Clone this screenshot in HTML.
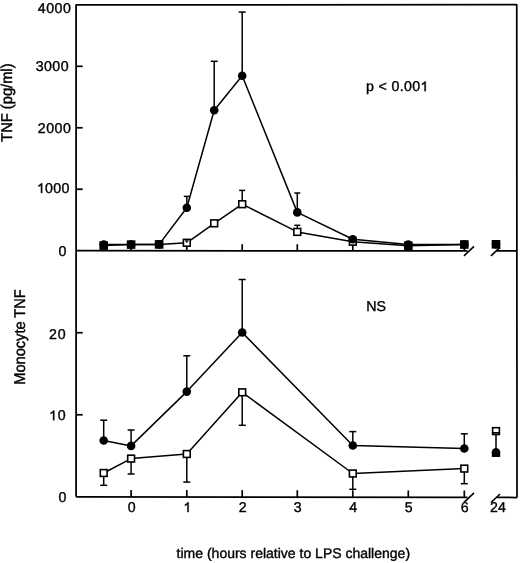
<!DOCTYPE html>
<html><head><meta charset="utf-8"><style>
html,body{margin:0;padding:0;background:#fff;}
body{width:520px;height:563px;overflow:hidden;}
svg{display:block;filter:grayscale(1);font-family:"Liberation Sans",sans-serif;-webkit-font-smoothing:antialiased;}
text{text-rendering:geometricPrecision;}
</style></head><body>
<svg width="520" height="563" viewBox="0 0 520 563" stroke="#000" fill="#000">
<polyline points="76.10,496.80 76.10,4.85 516.75,4.70 517.00,497.50" fill="none" stroke-width="1.75" stroke-linejoin="round"/>
<polyline points="76.10,250.70 467.50,250.88" fill="none" stroke-width="1.75" stroke-linejoin="round"/>
<polyline points="496.50,250.89 516.90,250.90" fill="none" stroke-width="1.75" stroke-linejoin="round"/>
<line x1="464.00" y1="255.88" x2="474.00" y2="246.38" stroke-width="1.6" stroke-linecap="butt"/>
<line x1="491.00" y1="255.89" x2="500.00" y2="247.39" stroke-width="1.6" stroke-linecap="butt"/>
<polyline points="76.10,496.80 467.50,497.42" fill="none" stroke-width="1.75" stroke-linejoin="round"/>
<polyline points="496.50,497.47 517.00,497.50" fill="none" stroke-width="1.75" stroke-linejoin="round"/>
<line x1="464.00" y1="502.42" x2="474.00" y2="492.92" stroke-width="1.6" stroke-linecap="butt"/>
<line x1="491.00" y1="502.47" x2="500.00" y2="493.97" stroke-width="1.6" stroke-linecap="butt"/>
<line x1="76.10" y1="189.24" x2="82.70" y2="189.24" stroke-width="1.75" stroke-linecap="butt"/>
<line x1="76.10" y1="127.77" x2="82.70" y2="127.77" stroke-width="1.75" stroke-linecap="butt"/>
<line x1="76.10" y1="66.31" x2="82.70" y2="66.31" stroke-width="1.75" stroke-linecap="butt"/>
<line x1="76.10" y1="414.77" x2="82.70" y2="414.77" stroke-width="1.75" stroke-linecap="butt"/>
<line x1="76.10" y1="332.73" x2="82.70" y2="332.73" stroke-width="1.75" stroke-linecap="butt"/>
<line x1="131.10" y1="250.72" x2="131.10" y2="244.12" stroke-width="1.7" stroke-linecap="butt"/>
<line x1="131.10" y1="496.89" x2="131.10" y2="489.99" stroke-width="1.7" stroke-linecap="butt"/>
<line x1="186.80" y1="250.75" x2="186.80" y2="244.15" stroke-width="1.7" stroke-linecap="butt"/>
<line x1="186.80" y1="496.98" x2="186.80" y2="490.08" stroke-width="1.7" stroke-linecap="butt"/>
<line x1="242.20" y1="250.78" x2="242.20" y2="244.18" stroke-width="1.7" stroke-linecap="butt"/>
<line x1="242.20" y1="497.06" x2="242.20" y2="490.16" stroke-width="1.7" stroke-linecap="butt"/>
<line x1="297.30" y1="250.80" x2="297.30" y2="244.20" stroke-width="1.7" stroke-linecap="butt"/>
<line x1="297.30" y1="497.15" x2="297.30" y2="490.25" stroke-width="1.7" stroke-linecap="butt"/>
<line x1="352.80" y1="250.83" x2="352.80" y2="244.23" stroke-width="1.7" stroke-linecap="butt"/>
<line x1="352.80" y1="497.24" x2="352.80" y2="490.34" stroke-width="1.7" stroke-linecap="butt"/>
<line x1="408.30" y1="250.85" x2="408.30" y2="244.25" stroke-width="1.7" stroke-linecap="butt"/>
<line x1="408.30" y1="497.33" x2="408.30" y2="490.43" stroke-width="1.7" stroke-linecap="butt"/>
<line x1="464.30" y1="250.88" x2="464.30" y2="244.28" stroke-width="1.7" stroke-linecap="butt"/>
<line x1="464.30" y1="497.42" x2="464.30" y2="490.52" stroke-width="1.7" stroke-linecap="butt"/>
<text stroke="#000" stroke-width="0.38" x="37.86" y="12.60" text-anchor="start" font-size="14.2" letter-spacing="0.45" xml:space="preserve" >4000</text>
<text stroke="#000" stroke-width="0.38" x="35.66" y="71.40" text-anchor="start" font-size="14.2" letter-spacing="0.45" xml:space="preserve" >3000</text>
<text stroke="#000" stroke-width="0.38" x="37.86" y="133.00" text-anchor="start" font-size="14.2" letter-spacing="0.45" xml:space="preserve" >2000</text>
<path d="M763 0L583 0L583 1128Q518 1066 412 1004Q306 942 222 911L222 1085Q367 1153 476 1250Q585 1347 630 1409L763 1409Z" transform="translate(36.91,193.00) scale(0.00693,-0.00693)" fill="#000" stroke="#000" stroke-width="54.8"/>
<text stroke="#000" stroke-width="0.38" x="45.11" y="193.00" text-anchor="start" font-size="14.2" letter-spacing="0.3" xml:space="preserve" >000</text>
<text stroke="#000" stroke-width="0.38" x="66.40" y="256.00" text-anchor="end" font-size="14.2" >0</text>
<text stroke="#000" stroke-width="0.38" x="49.01" y="338.50" text-anchor="start" font-size="14.2" letter-spacing="0.8" xml:space="preserve" >20</text>
<path d="M763 0L583 0L583 1128Q518 1066 412 1004Q306 942 222 911L222 1085Q367 1153 476 1250Q585 1347 630 1409L763 1409Z" transform="translate(49.01,420.30) scale(0.00693,-0.00693)" fill="#000" stroke="#000" stroke-width="54.8"/>
<text stroke="#000" stroke-width="0.38" x="57.70" y="420.30" text-anchor="start" font-size="14.2" letter-spacing="0.8" xml:space="preserve" >0</text>
<text stroke="#000" stroke-width="0.38" x="66.40" y="502.30" text-anchor="end" font-size="14.2" >0</text>
<text stroke="#000" stroke-width="0.38" x="131.60" y="512.10" text-anchor="middle" font-size="14.2" >0</text>
<path d="M763 0L583 0L583 1128Q518 1066 412 1004Q306 942 222 911L222 1085Q367 1153 476 1250Q585 1347 630 1409L763 1409Z" transform="translate(183.35,512.10) scale(0.00693,-0.00693)" fill="#000" stroke="#000" stroke-width="54.8"/>
<text stroke="#000" stroke-width="0.38" x="242.70" y="512.10" text-anchor="middle" font-size="14.2" >2</text>
<text stroke="#000" stroke-width="0.38" x="297.80" y="512.10" text-anchor="middle" font-size="14.2" >3</text>
<text stroke="#000" stroke-width="0.38" x="353.30" y="512.10" text-anchor="middle" font-size="14.2" >4</text>
<text stroke="#000" stroke-width="0.38" x="408.80" y="512.10" text-anchor="middle" font-size="14.2" >5</text>
<text stroke="#000" stroke-width="0.38" x="464.80" y="512.10" text-anchor="middle" font-size="14.2" >6</text>
<text stroke="#000" stroke-width="0.38" x="498.00" y="512.10" text-anchor="middle" font-size="14.2" >24</text>
<text stroke="#000" stroke-width="0.38" x="366.00" y="91.20" text-anchor="start" font-size="14.2" letter-spacing="0.34" xml:space="preserve" >p &lt; 0.00</text>
<path d="M763 0L583 0L583 1128Q518 1066 412 1004Q306 942 222 911L222 1085Q367 1153 476 1250Q585 1347 630 1409L763 1409Z" transform="translate(420.44,91.20) scale(0.00693,-0.00693)" fill="#000" stroke="#000" stroke-width="54.8"/>
<text stroke="#000" stroke-width="0.38" x="366.20" y="311.40" text-anchor="start" font-size="14.2" >NS</text>
<text stroke="#000" stroke-width="0.38" x="176.60" y="557.60" text-anchor="start" font-size="14.0" >time (hours relative to LPS challenge)</text>
<text stroke="#000" stroke-width="0.38" transform="translate(12.4,141.8) rotate(-90) scale(1,1.06)" font-size="14.7" style="stroke-width:0.42px">TNF (pg/ml)</text>
<text stroke="#000" stroke-width="0.38" transform="translate(24.8,384.7) rotate(-90) scale(1,1.06)" font-size="14.6" style="stroke-width:0.42px">Monocyte TNF</text>
<polyline points="103.70,244.50 131.10,244.50 159.10,244.40 186.80,207.70 214.20,110.20 242.20,75.80 297.30,212.40 352.80,239.20 408.30,244.60 464.30,244.50" fill="none" stroke-width="1.5" stroke-linejoin="round"/>
<polyline points="103.70,245.60 131.10,244.60 159.10,244.40 186.80,242.80 214.20,223.30 242.20,204.20 297.30,231.90 352.80,241.70 408.30,245.80 464.30,244.50" fill="none" stroke-width="1.5" stroke-linejoin="round"/>
<line x1="186.80" y1="207.70" x2="186.80" y2="196.40" stroke-width="1.5" stroke-linecap="butt"/>
<line x1="183.80" y1="196.40" x2="189.80" y2="196.40" stroke-width="1.5" stroke-linecap="butt"/>
<line x1="214.20" y1="110.20" x2="214.20" y2="61.30" stroke-width="1.5" stroke-linecap="butt"/>
<line x1="210.70" y1="61.30" x2="217.70" y2="61.30" stroke-width="1.5" stroke-linecap="butt"/>
<line x1="242.20" y1="75.80" x2="242.20" y2="12.10" stroke-width="1.5" stroke-linecap="butt"/>
<line x1="238.70" y1="12.10" x2="245.70" y2="12.10" stroke-width="1.5" stroke-linecap="butt"/>
<line x1="242.20" y1="204.20" x2="242.20" y2="190.40" stroke-width="1.5" stroke-linecap="butt"/>
<line x1="239.20" y1="190.40" x2="245.20" y2="190.40" stroke-width="1.5" stroke-linecap="butt"/>
<line x1="297.30" y1="212.40" x2="297.30" y2="193.00" stroke-width="1.5" stroke-linecap="butt"/>
<line x1="294.30" y1="193.00" x2="300.30" y2="193.00" stroke-width="1.5" stroke-linecap="butt"/>
<line x1="297.30" y1="231.90" x2="297.30" y2="225.30" stroke-width="1.5" stroke-linecap="butt"/>
<line x1="294.30" y1="225.30" x2="300.30" y2="225.30" stroke-width="1.5" stroke-linecap="butt"/>
<line x1="186.80" y1="242.80" x2="186.80" y2="240.60" stroke-width="1.2" stroke-linecap="butt"/>
<line x1="185.05" y1="240.60" x2="188.55" y2="240.60" stroke-width="1.2" stroke-linecap="butt"/>
<rect x="99.40" y="241.30" width="8.60" height="8.60" fill="#000" stroke="none"/>
<circle cx="103.70" cy="244.50" r="4.3" fill="#000" stroke="none"/>
<rect x="126.80" y="240.30" width="8.60" height="8.60" fill="#000" stroke="none"/>
<circle cx="131.10" cy="244.50" r="4.3" fill="#000" stroke="none"/>
<rect x="154.80" y="240.10" width="8.60" height="8.60" fill="#000" stroke="none"/>
<circle cx="159.10" cy="244.40" r="4.3" fill="#000" stroke="none"/>
<rect x="404.00" y="241.50" width="8.60" height="8.60" fill="#000" stroke="none"/>
<circle cx="408.30" cy="244.60" r="4.3" fill="#000" stroke="none"/>
<rect x="460.00" y="240.20" width="8.60" height="8.60" fill="#000" stroke="none"/>
<circle cx="464.30" cy="244.50" r="4.3" fill="#000" stroke="none"/>
<rect x="491.70" y="240.00" width="8.60" height="8.60" fill="#000" stroke="none"/>
<circle cx="496.00" cy="244.30" r="4.3" fill="#000" stroke="none"/>
<rect x="183.40" y="239.40" width="6.80" height="6.80" fill="#fff" stroke-width="1.6"/>
<rect x="210.80" y="219.90" width="6.80" height="6.80" fill="#fff" stroke-width="1.6"/>
<rect x="238.80" y="200.80" width="6.80" height="6.80" fill="#fff" stroke-width="1.6"/>
<rect x="293.90" y="228.50" width="6.80" height="6.80" fill="#fff" stroke-width="1.6"/>
<rect x="349.40" y="238.30" width="6.80" height="6.80" fill="#fff" stroke-width="1.6"/>
<line x1="186.80" y1="242.80" x2="186.80" y2="240.90" stroke-width="1.2" stroke-linecap="butt"/>
<line x1="185.05" y1="240.90" x2="188.55" y2="240.90" stroke-width="1.2" stroke-linecap="butt"/>
<circle cx="186.80" cy="207.70" r="4.3" fill="#000" stroke="none"/>
<circle cx="214.20" cy="110.20" r="4.3" fill="#000" stroke="none"/>
<circle cx="242.20" cy="75.80" r="4.3" fill="#000" stroke="none"/>
<circle cx="297.30" cy="212.40" r="4.3" fill="#000" stroke="none"/>
<circle cx="352.80" cy="239.20" r="4.3" fill="#000" stroke="none"/>
<polyline points="103.70,440.50 131.10,445.90 186.80,391.60 242.20,332.50 352.80,445.50 464.30,448.50" fill="none" stroke-width="1.5" stroke-linejoin="round"/>
<polyline points="103.70,473.00 131.10,458.60 186.80,454.00 242.20,392.30 352.80,473.50 464.30,468.60" fill="none" stroke-width="1.5" stroke-linejoin="round"/>
<line x1="103.70" y1="440.50" x2="103.70" y2="420.20" stroke-width="1.5" stroke-linecap="butt"/>
<line x1="100.20" y1="420.20" x2="107.20" y2="420.20" stroke-width="1.5" stroke-linecap="butt"/>
<line x1="131.10" y1="445.90" x2="131.10" y2="430.00" stroke-width="1.5" stroke-linecap="butt"/>
<line x1="127.60" y1="430.00" x2="134.60" y2="430.00" stroke-width="1.5" stroke-linecap="butt"/>
<line x1="186.80" y1="391.60" x2="186.80" y2="355.80" stroke-width="1.5" stroke-linecap="butt"/>
<line x1="183.30" y1="355.80" x2="190.30" y2="355.80" stroke-width="1.5" stroke-linecap="butt"/>
<line x1="242.20" y1="332.50" x2="242.20" y2="279.50" stroke-width="1.5" stroke-linecap="butt"/>
<line x1="238.70" y1="279.50" x2="245.70" y2="279.50" stroke-width="1.5" stroke-linecap="butt"/>
<line x1="352.80" y1="445.50" x2="352.80" y2="431.60" stroke-width="1.5" stroke-linecap="butt"/>
<line x1="349.30" y1="431.60" x2="356.30" y2="431.60" stroke-width="1.5" stroke-linecap="butt"/>
<line x1="464.30" y1="448.50" x2="464.30" y2="433.80" stroke-width="1.5" stroke-linecap="butt"/>
<line x1="460.80" y1="433.80" x2="467.80" y2="433.80" stroke-width="1.5" stroke-linecap="butt"/>
<line x1="103.70" y1="473.00" x2="103.70" y2="485.30" stroke-width="1.5" stroke-linecap="butt"/>
<line x1="100.20" y1="485.30" x2="107.20" y2="485.30" stroke-width="1.5" stroke-linecap="butt"/>
<line x1="131.10" y1="458.60" x2="131.10" y2="474.00" stroke-width="1.5" stroke-linecap="butt"/>
<line x1="127.60" y1="474.00" x2="134.60" y2="474.00" stroke-width="1.5" stroke-linecap="butt"/>
<line x1="186.80" y1="454.00" x2="186.80" y2="482.10" stroke-width="1.5" stroke-linecap="butt"/>
<line x1="183.30" y1="482.10" x2="190.30" y2="482.10" stroke-width="1.5" stroke-linecap="butt"/>
<line x1="242.20" y1="392.30" x2="242.20" y2="425.30" stroke-width="1.5" stroke-linecap="butt"/>
<line x1="238.70" y1="425.30" x2="245.70" y2="425.30" stroke-width="1.5" stroke-linecap="butt"/>
<line x1="352.80" y1="473.50" x2="352.80" y2="489.30" stroke-width="1.5" stroke-linecap="butt"/>
<line x1="349.30" y1="489.30" x2="356.30" y2="489.30" stroke-width="1.5" stroke-linecap="butt"/>
<line x1="464.30" y1="468.60" x2="464.30" y2="483.70" stroke-width="1.5" stroke-linecap="butt"/>
<line x1="460.80" y1="483.70" x2="467.80" y2="483.70" stroke-width="1.5" stroke-linecap="butt"/>
<line x1="496.00" y1="431.10" x2="496.00" y2="452.50" stroke-width="1.5" stroke-linecap="butt"/>
<rect x="100.30" y="469.60" width="6.80" height="6.80" fill="#fff" stroke-width="1.6"/>
<rect x="127.70" y="455.20" width="6.80" height="6.80" fill="#fff" stroke-width="1.6"/>
<rect x="183.40" y="450.60" width="6.80" height="6.80" fill="#fff" stroke-width="1.6"/>
<rect x="238.80" y="388.90" width="6.80" height="6.80" fill="#fff" stroke-width="1.6"/>
<rect x="349.40" y="470.10" width="6.80" height="6.80" fill="#fff" stroke-width="1.6"/>
<rect x="460.90" y="465.20" width="6.80" height="6.80" fill="#fff" stroke-width="1.6"/>
<rect x="492.60" y="427.70" width="6.80" height="6.80" fill="#fff" stroke-width="1.6"/>
<line x1="492.20" y1="432.80" x2="499.80" y2="432.80" stroke-width="1.6" stroke-linecap="butt"/>
<circle cx="103.70" cy="440.50" r="4.3" fill="#000" stroke="none"/>
<circle cx="131.10" cy="445.90" r="4.3" fill="#000" stroke="none"/>
<circle cx="186.80" cy="391.60" r="4.3" fill="#000" stroke="none"/>
<circle cx="242.20" cy="332.50" r="4.3" fill="#000" stroke="none"/>
<circle cx="352.80" cy="445.50" r="4.3" fill="#000" stroke="none"/>
<circle cx="464.30" cy="448.50" r="4.3" fill="#000" stroke="none"/>
<circle cx="496.00" cy="452.20" r="4.25" fill="#000" stroke="none"/>
<rect x="491.8" y="452.2" width="8.4" height="4.8" fill="#000" stroke="none"/>
</svg>
</body></html>
